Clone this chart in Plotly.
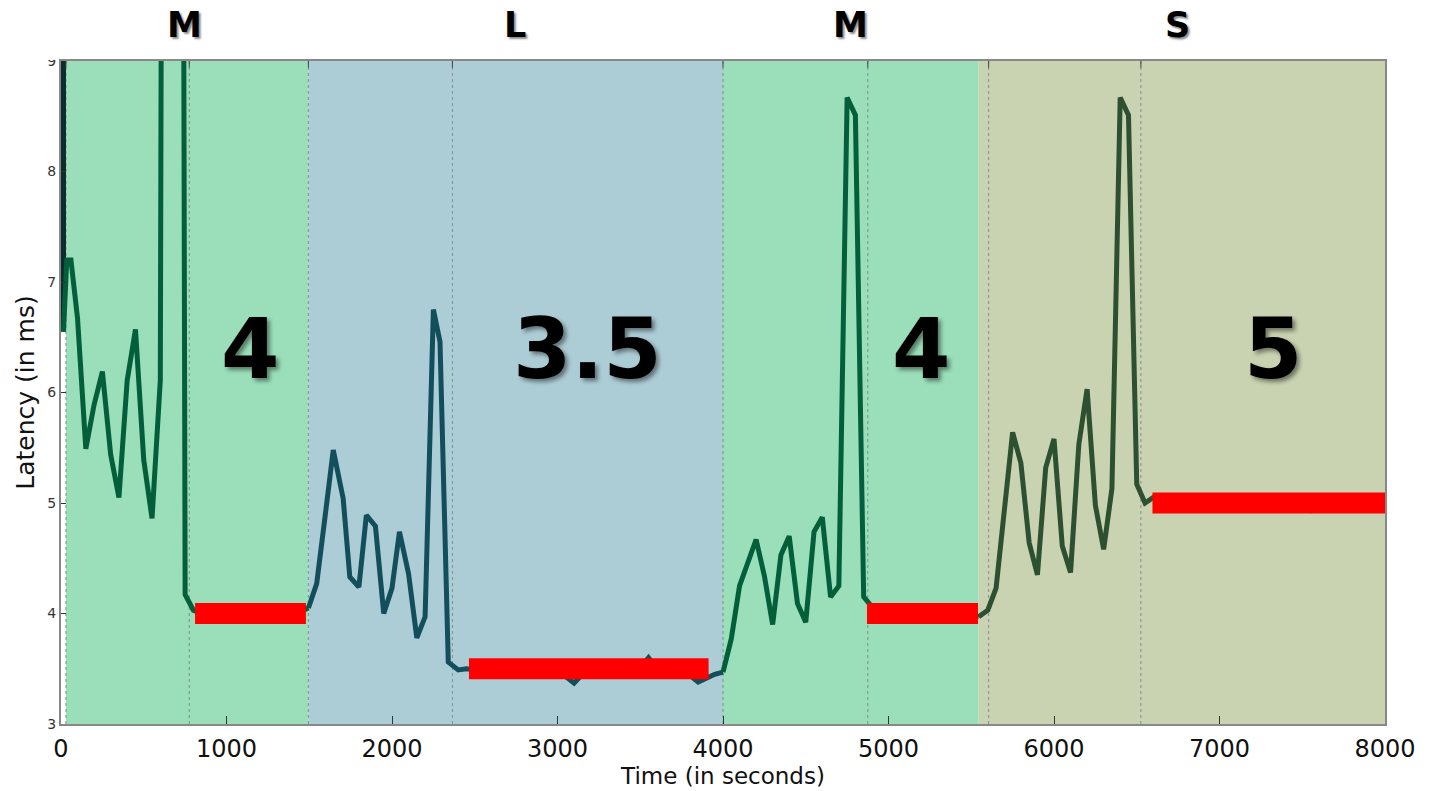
import plotly.graph_objects as go

# ---- phases: background bands, labels ----
band_edges = [30, 1495, 4000, 5545, 8000]
band_colors = ["#9adfba", "#adcdd6", "#9adfba", "#c9d3b1"]
phase_labels = ["M", "L", "M", "S"]
phase_label_x = [749, 2743, 4773, 6749]

# dotted event markers (seconds)
event_x = [30, 775, 1495, 2365, 4000, 4875, 5605, 6525]

# ---- measured latency (ms), one series per phase ----
start_x = [15, 15]
start_y = [12.0, 6.55]

p1_x = [15, 35, 60, 100, 150, 200, 250, 300, 350, 400, 450, 500, 550, 600, 650,
        700, 750, 800, 850, 900, 950, 1000, 1100, 1200, 1300, 1400, 1450, 1495]
p1_y = [6.55, 7.2, 7.2, 6.67, 5.49, 5.89, 6.19, 5.44, 5.05, 6.11, 6.57, 5.39, 4.86, 6.11, 35.0,
        35.0, 4.17, 4.03, 4.0, 3.99, 4.0, 4.01, 3.99, 4.0, 4.01, 4.0, 4.02, 4.05]

p2_x = [1495, 1545, 1595, 1645, 1705, 1745, 1800, 1845, 1900, 1950, 2000, 2045, 2100, 2150,
        2200, 2250, 2290, 2340, 2400, 2450, 2500, 2600, 2700, 2800, 2900, 3000, 3050, 3100,
        3150, 3200, 3300, 3400, 3500, 3550, 3600, 3700, 3800, 3850, 3900, 3950, 4000]
p2_y = [4.05, 4.27, 4.87, 5.48, 5.04, 4.33, 4.24, 4.89, 4.79, 4.0, 4.23, 4.74, 4.36, 3.78,
        3.97, 6.75, 6.46, 3.56, 3.49, 3.5, 3.49, 3.48, 3.5, 3.49, 3.47, 3.46, 3.43, 3.37,
        3.45, 3.48, 3.49, 3.5, 3.51, 3.6, 3.5, 3.48, 3.44, 3.38, 3.42, 3.45, 3.47]

p3_x = [4000, 4050, 4100, 4150, 4200, 4250, 4300, 4350, 4400, 4450, 4500, 4550, 4600, 4650,
        4700, 4750, 4800, 4850, 4900, 5000, 5100, 5200, 5250, 5300, 5400, 5500, 5545]
p3_y = [3.47, 3.77, 4.25, 4.46, 4.67, 4.34, 3.9, 4.53, 4.7, 4.09, 3.92, 4.74, 4.87, 4.15,
        4.25, 8.67, 8.51, 4.15, 4.06, 4.02, 4.0, 3.98, 3.93, 3.99, 4.0, 3.98, 3.97]

p4_x = [5545, 5600, 5650, 5700, 5750, 5800, 5850, 5900, 5950, 6000, 6050, 6100, 6150, 6200,
        6250, 6300, 6350, 6400, 6450, 6500, 6550, 6600, 6650, 6700, 6750, 6800, 6900, 6950,
        7000, 7100, 7150, 7250, 7350, 7450, 7500, 7550, 7600, 7650, 7700, 7800, 7900, 8000]
p4_y = [3.97, 4.03, 4.23, 4.94, 5.64, 5.36, 4.64, 4.35, 5.32, 5.58, 4.61, 4.37, 5.53, 6.03,
        4.98, 4.58, 5.13, 8.67, 8.51, 5.17, 5.0, 5.05, 5.03, 5.02, 4.98, 5.02, 5.02, 4.98,
        5.02, 4.98, 5.02, 5.01, 5.02, 4.97, 4.95, 4.93, 4.94, 5.01, 5.02, 5.02, 5.01, 5.02]

# ---- target latency per phase ----
target_values = [4, 3.5, 4, 5]
target_start = [810, 2465, 4870, 6595]
target_end = [1480, 3913, 5541, 8060]
target_label_x = [1142, 3184, 5199, 7323]
target_label_text = ["4", "3.5", "4", "5"]
target_label_y = 6.39

x_ticks = [0, 1000, 2000, 3000, 4000, 5000, 6000, 7000, 8000]
y_ticks = [3, 4, 5, 6, 7, 8, 9]

fig = go.Figure()

series = [
    (start_x, start_y, "#0a2c2e"),
    (p1_x, p1_y, "#035f3a"),
    (p2_x, p2_y, "#134e5b"),
    (p3_x, p3_y, "#035f3a"),
    (p4_x, p4_y, "#2d5030"),
]
for xs, ys, col in series:
    fig.add_trace(go.Scatter(x=xs, y=ys, mode="lines",
                             line=dict(color=col, width=5),
                             showlegend=False, hoverinfo="skip"))

shapes = []
for i, col in enumerate(band_colors):
    shapes.append(dict(type="rect", xref="x", yref="y domain",
                       x0=band_edges[i], x1=band_edges[i + 1], y0=0, y1=1,
                       fillcolor=col, line=dict(width=0), layer="below"))
for ex in event_x:
    shapes.append(dict(type="line", xref="x", yref="y domain", x0=ex, x1=ex, y0=0, y1=1,
                       line=dict(color="#7f8f8f", width=1, dash="dot"), layer="below"))
    shapes.append(dict(type="line", xref="x", yref="y domain", x0=ex, x1=ex, y0=0.99, y1=1,
                       line=dict(color="#444444", width=1), layer="above"))
for v, xs, xe in zip(target_values, target_start, target_end):
    shapes.append(dict(type="rect", xref="x", yref="y", x0=xs, x1=xe,
                       y0=v - 0.095, y1=v + 0.095,
                       fillcolor="#ff0000", line=dict(width=0), layer="above"))
# blank strip over the top of the y tick column
shapes.append(dict(type="rect", xref="paper", yref="paper", x0=-0.046, x1=-0.003,
                   y0=1.0015, y1=1.06, fillcolor="white", line=dict(width=0), layer="above"))

annotations = []
for lab, lx in zip(phase_labels, phase_label_x):
    annotations.append(dict(x=lx, y=1.054, xref="x", yref="paper", text=lab,
                            showarrow=False, yanchor="middle", xanchor="center",
                            font=dict(family="DejaVu Sans", size=35, color="black", weight="bold",
                                      shadow="2px 2px 2px rgba(0,0,0,0.45)")))
for t, lx in zip(target_label_text, target_label_x):
    annotations.append(dict(x=lx, y=target_label_y, xref="x", yref="y", text=t,
                            showarrow=False, yanchor="middle", xanchor="center",
                            font=dict(family="DejaVu Sans", size=84, color="black", weight="bold",
                                      shadow="3px 3px 4px rgba(0,0,0,0.45)")))

fig.update_layout(
    width=1429, height=791,
    margin=dict(l=61, r=44, t=61, b=67, autoexpand=False),
    paper_bgcolor="white", plot_bgcolor="white",
    shapes=shapes, annotations=annotations,
    xaxis=dict(range=[0, 8000], tickvals=x_ticks, ticks="inside", ticklen=8,
               tickcolor="#333333", showgrid=False, zeroline=False,
               showline=True, linecolor="#888888", linewidth=2, mirror=True,
               automargin=False, ticklabelstandoff=2,
               tickfont=dict(family="DejaVu Sans", size=24, color="#111111"),
               title=dict(text="Time (in seconds)", standoff=6,
                          font=dict(family="DejaVu Sans", size=23, color="#111111"))),
    yaxis=dict(range=[3, 9], tickvals=y_ticks, ticks="inside", ticklen=5,
               tickcolor="#333333", showgrid=False, zeroline=False,
               showline=True, linecolor="#888888", linewidth=2, mirror=True,
               automargin=False,
               tickfont=dict(family="DejaVu Sans", size=14, color="#333333"),
               title=dict(text="Latency (in ms)", standoff=6,
                          font=dict(family="DejaVu Sans", size=25, color="#111111"))),
)

fig.write_html("out.html")
